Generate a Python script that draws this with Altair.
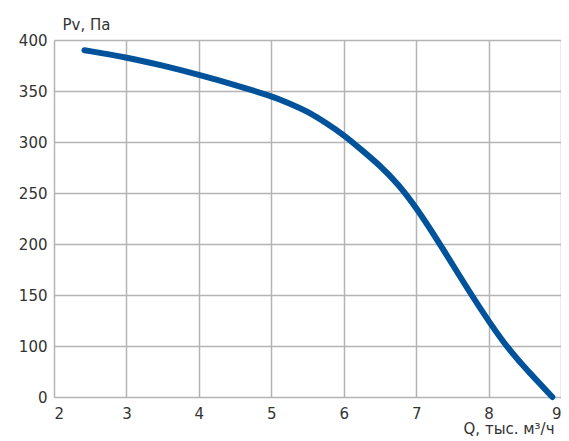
import altair as alt
import pandas as pd

# flow, thousand m3/h
q = [2.42, 3.0, 3.5, 4.0, 4.5, 5.0, 5.25, 5.5, 5.75, 6.0, 6.25, 6.5, 6.75, 7.0, 7.33, 7.76, 8.23, 8.55, 8.88]
# pressure (on the chart's linear scale; bottom gridline is labelled 0)
pv = [390, 383, 375, 366, 356, 345, 338, 330, 319, 307, 292, 277, 259, 236, 200, 150, 100, 75, 50]

x_ticks = [2, 3, 4, 5, 6, 7, 8, 9]
y_ticks = [50, 100, 150, 200, 250, 300, 350, 400]

df = pd.DataFrame({"q": q, "pv": pv})

font = "DejaVu Sans"
grid_col = "#b4b4b4"
txt_col = "#333333"

chart = alt.Chart(df).mark_line(
    color="#00539b", strokeWidth=6, strokeCap="round", interpolate="basis"
).encode(
    x=alt.X("q:Q", scale=alt.Scale(domain=[2, 9], nice=False, zero=False),
            axis=alt.Axis(values=x_ticks, title="Q, тыс. м³/ч", grid=True, gridColor=grid_col,
                          gridWidth=1.5, domain=False, ticks=False, labelPadding=9,
                          labelFont=font, labelFontSize=15, labelColor=txt_col,
                          titleFont=font, titleFontSize=15, titleFontWeight="normal",
                          titleColor=txt_col, titleAnchor="start", titleAlign="right",
                          titleX=500, titleY=36, titleBaseline="alphabetic")),
    y=alt.Y("pv:Q", scale=alt.Scale(domain=[50, 400], nice=False, zero=False),
            axis=alt.Axis(values=y_ticks, title="Pv, Па", grid=True, gridColor=grid_col,
                          gridWidth=1.5, domain=False, ticks=False, labelPadding=7,
                          labelExpr="datum.value == 50 ? '0' : datum.label",
                          labelFont=font, labelFontSize=15, labelColor=txt_col,
                          titleFont=font, titleFontSize=15, titleFontWeight="normal",
                          titleColor=txt_col, titleAngle=0, titleAlign="left",
                          titleAnchor="start", titleX=8, titleY=-11,
                          titleBaseline="alphabetic")),
).properties(
    width=507, height=357,
    autosize=alt.AutoSizeParams(type="none"),
    padding={"left": 46, "top": 32, "right": 0, "bottom": 40},
).configure_view(stroke=None)

chart.save("out.html", embed_options={"renderer": "svg", "actions": False})
